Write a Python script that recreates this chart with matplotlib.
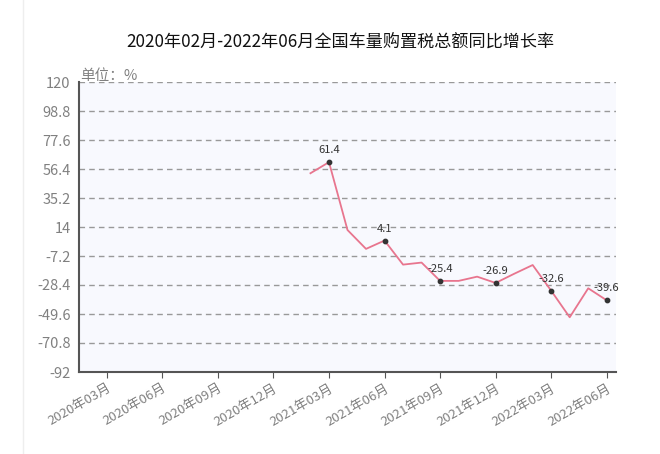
import matplotlib
matplotlib.use("Agg")
import matplotlib.pyplot as plt
import numpy as np

plt.rcParams['font.family'] = ['Noto Sans CJK SC', 'DejaVu Sans']

title = "2020年02月-2022年06月全国车量购置税总额同比增长率"
unit_label = "单位：%"

months = []
for y in (2020, 2021, 2022):
    for m in range(1, 13):
        if (y == 2020 and m < 2) or (y == 2022 and m > 6):
            continue
        months.append(f"{y}年{m:02d}月")

values = [None] * 12 + [53.3, 61.4, 11.8, -2.0, 4.1, -13.5, -12.0, -25.4, -25.4,
                        -22.3, -26.9, -20.2, -13.8, -32.6, -52.0, -30.8, -39.6]

y_ticks = [120, 98.8, 77.6, 56.4, 35.2, 14, -7.2, -28.4, -49.6, -70.8, -92]
y_tick_labels = ["120", "98.8", "77.6", "56.4", "35.2", "14", "-7.2", "-28.4", "-49.6", "-70.8", "-92"]

fig = plt.figure(figsize=(6.6, 4.54), dpi=100)
fig.patch.set_facecolor("white")
ax = fig.add_axes([79/660, 1-372/454, (616-79)/660, (372-82)/454])
ax.set_facecolor("#f8f9fe")

n = len(months)
x = np.arange(n)
vals = np.array([np.nan if v is None else v for v in values], dtype=float)
ax.plot(x, vals, color="#e8758e", lw=1.3, zorder=3)

label_idx = [i for i, m in enumerate(months) if m[-3:-1] in ("03", "06", "09", "12") and values[i] is not None]
ax.scatter(x[label_idx], vals[label_idx], s=10, color="#333333", zorder=4, marker="o")
for i in label_idx:
    ax.annotate(f"{values[i]:g}", (x[i], vals[i]), xytext=(0, 5), textcoords="offset points",
                ha="center", va="bottom", fontsize=8, color="#333333", zorder=5)

ax.set_xlim(-0.5, n - 0.5)
ax.set_ylim(-92, 120)
ax.set_yticks(y_ticks)
ax.set_yticklabels(y_tick_labels, color="#808080", fontsize=10.5)
tick_idx = [i for i, m in enumerate(months) if m[-3:-1] in ("03", "06", "09", "12")]
ax.set_xticks(tick_idx)
ax.set_xticklabels([months[i] for i in tick_idx], rotation=30, ha="right", rotation_mode="anchor",
                   color="#808080", fontsize=9.5)
ax.tick_params(axis="y", length=0, pad=6)
ax.tick_params(axis="x", length=4, color="#555555", pad=3)

for yv in y_ticks[:-1]:
    ax.axhline(yv, color="#999999", lw=1, ls=(0, (4, 3)), zorder=1)

for s in ("top", "right"):
    ax.spines[s].set_visible(False)
for s in ("left", "bottom"):
    ax.spines[s].set_color("#555555")
    ax.spines[s].set_linewidth(1.5)

fig.text(340/660, 1-42/454, title, ha="center", va="center", fontsize=12.3, color="#111111")
ax.annotate(unit_label, (0.0, 1.0), xycoords="axes fraction", xytext=(1, 4), textcoords="offset points",
            ha="left", va="center", fontsize=10.5, color="#808080")

fig.add_artist(plt.Line2D([23/660, 23/660], [0, 1], color="#eeeeee", lw=1))

fig.savefig("out.png", dpi=100)
